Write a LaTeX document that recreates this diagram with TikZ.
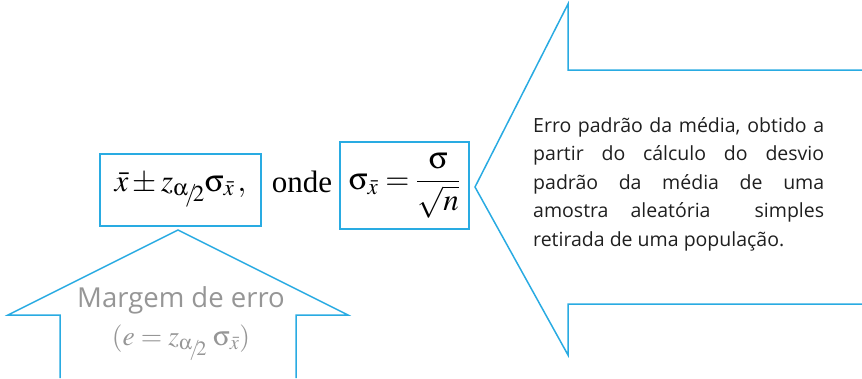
\documentclass[tikz,border=0pt]{standalone}
\usepackage{mathptmx}
\usepackage[Symbol]{upgreek}
\usepackage{fontspec}
\setmainfont{Liberation Serif}
\newfontfamily\descfont{Open Sans}
\usetikzlibrary{positioning}

\definecolor{arrowblue}{RGB}{41,171,226}
\definecolor{labelgray}{RGB}{150,150,150}
% alpha over 2, written with a slash
\newcommand{\alphahalf}{\upalpha\mkern-2mu\raisebox{-6pt}{$\scriptstyle/\mkern-3mu2$}}

\begin{document}
\begin{tikzpicture}[
    x=1pt, y=-1pt,
    % Styles
    outline/.style={draw=arrowblue, line width=1.5pt, line join=miter},
    formbox/.style={draw=arrowblue, line width=1.5pt, inner sep=0pt, font=\fontsize{31}{36}\selectfont},
    desc/.style={text width=291pt, align=justify, inner sep=0pt, text=black!88, font=\descfont\fontsize{19.5}{28.5}\selectfont},
    margin_label/.style={align=center, inner sep=0pt, text=labelgray, font=\fontsize{27.5}{38}\selectfont}
]
    \useasboundingbox (0,0) rectangle (862,378);

    % 1. FORMULA BOXES
    \node[formbox, minimum width=161pt, minimum height=72pt] (mean_box) at (180.5,190) {$\bar{x}\pm z_{\alphahalf}\upsigma_{\bar{x}}\,,$};
    \node[formbox, minimum width=129pt, minimum height=87pt] (se_box) at (404.5,185.5) {$\displaystyle\upsigma_{\bar{x}} = \frac{\upsigma}{\sqrt{n}}$};
    \node[anchor=base, font=\fontsize{31}{36}\selectfont] (onde) at (302,192) {onde};

    % 2. BLOCK ARROWS
    \draw[outline] (862,70) -- (568,70) -- (568,4) -- (475,187) -- (568,355) -- (568,304) -- (862,304);
    \draw[outline] (60,378) -- (60,315) -- (8,315) -- (178,230) -- (348,315) -- (296,315) -- (296,378);

    % 3. LABELS
    \node[desc, anchor=north west] (se_desc) at (533,117) {Erro padrão da média, obtido a\linebreak partir do cálculo do desvio\linebreak padrão da média de uma\linebreak amostra aleatória \ simples\linebreak retirada de uma população.};
    \node[margin_label, anchor=north] (margin) at (181,286) {{\descfont Margem de erro}\\ $(e = z_{\alphahalf}\;\upsigma_{\bar{x}})$};

\end{tikzpicture}
\end{document}
